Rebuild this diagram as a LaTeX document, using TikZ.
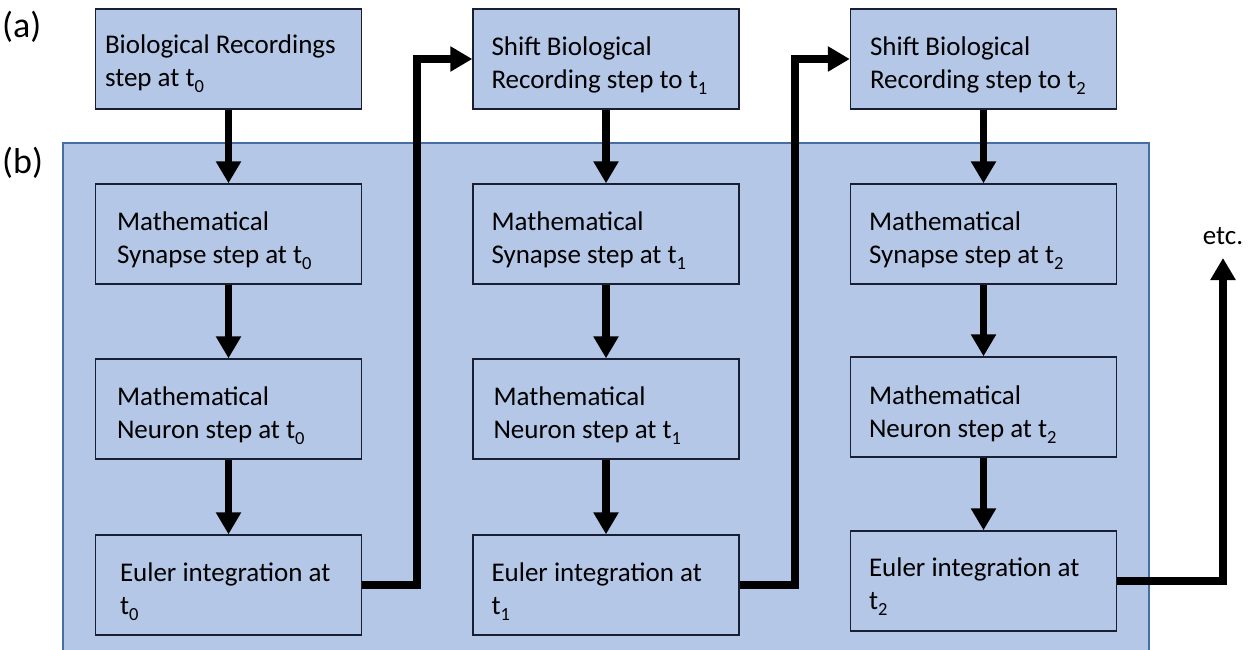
\documentclass[tikz,border=0pt]{standalone}
\usepackage{fontspec}
\setmainfont{Carlito}
\usetikzlibrary{arrows.meta}
\definecolor{boxfill}{RGB}{180,199,231}
\definecolor{panelline}{RGB}{70,110,165}
\definecolor{boxline}{RGB}{25,30,50}
\newcommand{\lowidx}[1]{\raisebox{-6.5pt}{\fontsize{18.5}{18.5}\selectfont #1}}
\begin{document}
\begin{tikzpicture}[x=1pt,y=-1pt,
  stepbox/.style={draw=boxline, line width=1.4pt, fill=boxfill, rectangle,
    minimum width=266pt, minimum height=100pt, inner sep=0pt},
  boxtext/.style={anchor=base west, align=left, inner sep=0pt,
    font=\fontsize{27}{33}\selectfont, text=black},
  lab/.style={anchor=base west, inner sep=0pt, font=\fontsize{36}{40}\selectfont},
  conn/.style={line width=7.3pt, line join=miter, draw=black,
    -{Triangle[width=24pt,length=22pt]}},
]
\useasboundingbox (0,0) rectangle (1252,649);
% panel (b)
\draw[draw=panelline, line width=1.2pt, fill=boxfill] (63,143) rectangle (1149,660);
% labels
\node[lab] (la) at (2,37) {(a)};
\node[lab] (lb) at (2,173) {(b)};
% column 1
\node[stepbox] (b1) at (228.5,59) {};
\node[stepbox] (s1) at (228.5,234) {};
\node[stepbox] (n1) at (228.5,409) {};
\node[stepbox] (e1) at (228.5,585) {};
% column 2
\node[stepbox] (b2) at (606,59) {};
\node[stepbox] (s2) at (606,234) {};
\node[stepbox] (n2) at (606,409) {};
\node[stepbox] (e2) at (606,585) {};
% column 3
\node[stepbox] (b3) at (983.5,59) {};
\node[stepbox] (s3) at (983.5,234) {};
\node[stepbox] (n3) at (983.5,407) {};
\node[stepbox] (e3) at (983.5,581) {};
% texts (anchor = baseline of the last line)
\node[boxtext] (b1t) at ([shift={(10,78)}]b1.north west) {Biological Recordings\\step at t\lowidx{0}};
\node[boxtext] (s1t) at ([shift={(22,80)}]s1.north west) {Mathematical\\Synapse step at t\lowidx{0}};
\node[boxtext] (n1t) at ([shift={(22,80)}]n1.north west) {Mathematical\\Neuron step at t\lowidx{0}};
\node[boxtext] (e1t) at ([shift={(25,80)}]e1.north west) {Euler integration at\\t\lowidx{0}};
\node[boxtext] (b2t) at ([shift={(19,80)}]b2.north west) {Shift Biological\\Recording step to t\lowidx{1}};
\node[boxtext] (s2t) at ([shift={(19,80)}]s2.north west) {Mathematical\\Synapse step at t\lowidx{1}};
\node[boxtext] (n2t) at ([shift={(21,80)}]n2.north west) {Mathematical\\Neuron step at t\lowidx{1}};
\node[boxtext] (e2t) at ([shift={(19,80)}]e2.north west) {Euler integration at\\t\lowidx{1}};
\node[boxtext] (b3t) at ([shift={(20,80)}]b3.north west) {Shift Biological\\Recording step to t\lowidx{2}};
\node[boxtext] (s3t) at ([shift={(19,80)}]s3.north west) {Mathematical\\Synapse step at t\lowidx{2}};
\node[boxtext] (n3t) at ([shift={(19,81)}]n3.north west) {Mathematical\\Neuron step at t\lowidx{2}};
\node[boxtext] (e3t) at ([shift={(19,79)}]e3.north west) {Euler integration at\\t\lowidx{2}};
% etc
\node[anchor=base, inner sep=0pt, font=\fontsize{27}{33}\selectfont] (etc) at (1223,244) {etc.};
% junction coordinates
\coordinate (j1) at (417,300);
\coordinate (j2) at (795,300);
\coordinate (tip) at (1223,258);
% vertical arrows
\foreach \c in {1,2,3}{
  \draw[conn] (b\c.south) -- (s\c.north);
  \draw[conn] (s\c.south) -- (n\c.north);
  \draw[conn] (n\c.south) -- (e\c.north);
}
% cross-column connectors
\draw[conn] (e1.east) -| (j1) |- (b2.west);
\draw[conn] (e2.east) -| (j2) |- (b3.west);
\draw[conn] (e3.east) -| (tip);
\end{tikzpicture}
\end{document}
